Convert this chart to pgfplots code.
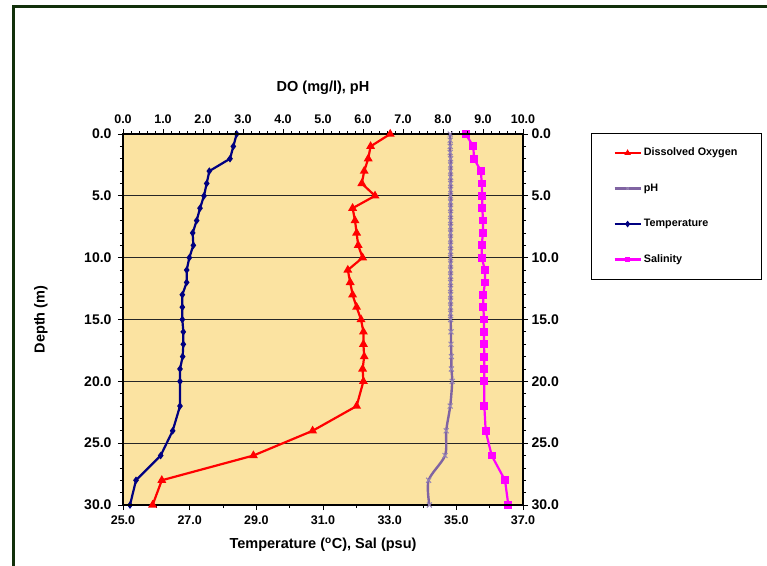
\documentclass[border=0pt]{standalone}
\usepackage{fontspec}
\setmainfont{Liberation Sans}
\usepackage{pgfplots}
\pgfplotsset{compat=1.18}

\definecolor{bgfill}{RGB}{251,227,161}
\definecolor{framegreen}{RGB}{18,48,10}
\definecolor{tempnavy}{RGB}{0,0,128}
\definecolor{salmag}{RGB}{255,0,255}
\definecolor{domred}{RGB}{255,0,0}
\definecolor{phline}{RGB}{128,100,162}
\definecolor{phmark}{RGB}{150,132,180}

\pgfplotsset{
  depthax/.style={
    width=400pt, height=371pt, scale only axis,
    at={(123pt,60pt)}, anchor=south west,
    ymin=0, ymax=30, y dir=reverse,
    ytick={0,5,...,30}, minor y tick num=4,
    axis line style={black, line width=1.4pt},
    tick style={black, line width=0.8pt},
    tick align=outside,
    major tick length=5pt, minor tick length=3pt,
    /pgf/number format/.cd, fixed, fixed zerofill, precision=1,
      assume math mode=true,
    /pgfplots/.cd,
    yticklabel style={font=\fontsize{14}{16}\selectfont\bfseries},
    xticklabel style={font=\fontsize{12.5}{14}\selectfont\bfseries},
    label style={font=\fontsize{14.5}{17}\selectfont\bfseries},
    legend image code/.code={
      \draw[mark repeat=2,mark phase=2,#1]
        plot coordinates {(0pt,0pt) (13pt,0pt) (26pt,0pt)};},
  },
}

\begin{document}
\begin{tikzpicture}[x=1pt,y=1pt]
\path[use as bounding box] (0,0) rectangle (767,565);
\draw[framegreen, line width=3pt] (13.5,-2) -- (13.5,558) -- (769,558);

% bottom axis: temperature and salinity
\begin{axis}[depthax,
  xmin=25, xmax=37, xtick={25,27,...,37}, minor x tick num=1,
  xtick pos=left, ytick pos=left,
  xticklabel style={yshift=-2pt},
  yticklabel style={xshift=-3pt},
  axis background/.style={fill=bgfill},
  ymajorgrids, grid style={black!85, line width=0.7pt},
  xlabel={Temperature (\textsuperscript{o}C), Sal (psu)},
  xlabel style={at={(axis description cs:0.5,0)}, anchor=center, yshift=-40pt},
  ylabel={Depth (m)},
  ylabel style={at={(axis description cs:-0.205,0.5)}, anchor=center},
]
\addplot[tempnavy, line width=2.2pt, mark=diamond*, mark size=2pt] coordinates {
  (28.41,0) (28.31,1) (28.21,2) (27.59,3) (27.51,4) (27.43,5) (27.31,6)
  (27.21,7) (27.09,8) (27.11,9) (26.99,10) (26.91,11) (26.91,12) (26.78,13)
  (26.78,14) (26.78,15) (26.81,16) (26.81,17) (26.79,18) (26.71,19)
  (26.71,20) (26.71,22) (26.49,24) (26.13,26) (25.39,28) (25.21,30)};
\addplot[salmag, line width=2.2pt, mark=square*, mark size=2.8pt] coordinates {
  (35.28,0) (35.51,1) (35.53,2) (35.74,3) (35.76,4) (35.78,5) (35.78,6)
  (35.80,7) (35.80,8) (35.76,9) (35.76,10) (35.86,11) (35.86,12) (35.81,13)
  (35.81,14) (35.83,15) (35.83,16) (35.83,17) (35.84,18) (35.84,19)
  (35.84,20) (35.84,22) (35.88,24) (36.06,26) (36.46,28) (36.56,30)};
\end{axis}

% top axis: dissolved oxygen and pH
\begin{axis}[depthax,
  xmin=0, xmax=10, xtick={0,1,...,10}, minor x tick num=4,
  xtick pos=right, xticklabel pos=right,
  ytick pos=right, yticklabel pos=right,
  xticklabel style={yshift=2pt},
  xlabel={DO (mg/l),  pH},
  xlabel style={at={(axis description cs:0.5,1)}, anchor=center, yshift=46pt},
  legend style={at={(1.17,1.003)}, anchor=north west, draw=black, fill=white,
    line width=0.8pt, inner xsep=22pt, inner ysep=12.5pt, row sep=21pt,
    font=\fontsize{10.8}{12}\selectfont\bfseries,
    nodes={inner sep=2pt, text height=8pt, text depth=2.5pt}},
  legend cell align=left,
  legend image post style={mark size=1.6pt},
]
\addplot[domred, line width=2.2pt, mark=triangle*, mark size=3pt] coordinates {
  (6.68,0) (6.19,1) (6.13,2) (6.03,3) (5.97,4) (6.30,5) (5.74,6) (5.80,7)
  (5.84,8) (5.88,9) (5.99,10) (5.62,11) (5.68,12) (5.74,13) (5.84,14)
  (5.95,15) (6.01,16) (6.01,17) (6.03,18) (5.99,19) (6.01,20) (5.84,22)
  (4.74,24) (3.26,26) (0.97,28) (0.74,30)};
\addlegendentry{Dissolved Oxygen}
\addplot[phline, line width=2.4pt, smooth, tension=0.5, mark=x, mark size=3.5pt,
  mark options={phmark, line width=1pt}] coordinates {
  (8.18,0) (8.18,0.5) (8.18,1) (8.18,1.5) (8.19,2) (8.19,2.5) (8.19,3)
  (8.19,3.5) (8.19,4) (8.19,4.5) (8.19,5) (8.19,5.5) (8.19,6) (8.19,6.5)
  (8.19,7) (8.19,7.5) (8.19,8) (8.19,8.5) (8.19,9) (8.19,9.5) (8.19,10)
  (8.19,10.5) (8.19,11) (8.19,11.5) (8.19,12) (8.19,12.5) (8.19,13)
  (8.19,13.5) (8.19,14) (8.19,14.5) (8.19,15) (8.20,16) (8.20,17)
  (8.21,18) (8.21,19) (8.23,20) (8.18,22) (8.08,24) (8.05,26)
  (7.64,28) (7.66,30)};
\addlegendentry{pH}
\addlegendimage{tempnavy, line width=2.2pt, mark=diamond*}
\addlegendentry{Temperature}
\addlegendimage{salmag, line width=2.2pt, mark=square*}
\addlegendentry{Salinity}
\end{axis}
\end{tikzpicture}
\end{document}
